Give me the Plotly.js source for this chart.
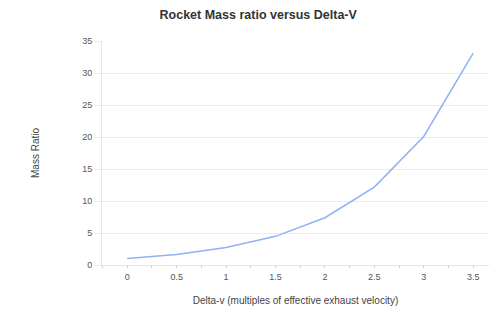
<!DOCTYPE html>
<html><head><meta charset="utf-8">
<script src="https://cdn.plot.ly/plotly-3.0.1.min.js"></script>
<style>html,body{margin:0;padding:0;background:#fff}#c{width:489px;height:318px}</style>
</head><body><div id="c"></div>
<script>
const deltaV = [0, 0.5, 1, 1.5, 2, 2.5, 3, 3.5];
const massRatio = [1.0, 1.65, 2.72, 4.48, 7.39, 12.18, 20.09, 33.12];
const xTickVals = [0, 0.5, 1, 1.5, 2, 2.5, 3, 3.5];
const xTickText = ["0", "0.5", "1", "1.5", "2", "2.5", "3", "3.5"];
const yTickVals = [0, 5, 10, 15, 20, 25, 30, 35];

const font = {family: "Liberation Sans, Arial, sans-serif", color: "#555", size: 9};
Plotly.newPlot("c", [{
  x: deltaV, y: massRatio, type: "scatter", mode: "lines",
  line: {color: "#8fb2f4", width: 1.5}, hoverinfo: "none"
}], {
  width: 489, height: 318,
  margin: {l: 102, r: 0, t: 41, b: 53},
  paper_bgcolor: "#fff", plot_bgcolor: "#fff",
  showlegend: false,
  title: {text: "Rocket Mass ratio versus Delta-V", x: 0.528, xanchor: "center", y: 0.955, yanchor: "middle",
          font: {family: "Liberation Sans, Arial, sans-serif", size: 12.5, color: "#333", weight: "bold"}},
  xaxis: {range: [-0.255, 3.66], tickvals: xTickVals, ticktext: xTickText, tickfont: font,
          showgrid: false, zeroline: false, showline: true, linecolor: "#e6e6e6", linewidth: 1,
          ticks: "outside", ticklen: 3, tickcolor: "rgba(0,0,0,0)",
          minor: {dtick: 0.25, tick0: 0.25, ticks: "outside", ticklen: 2, tickcolor: "#ccc", showgrid: false},
          title: {text: "Delta-v (multiples of effective exhaust velocity)", font: {family: "Liberation Sans, Arial, sans-serif", size: 10, color: "#444"}, standoff: 16}},
  yaxis: {range: [0, 35], tickvals: yTickVals, tickfont: font, showgrid: true, gridcolor: "#ececec", gridwidth: 1,
          zeroline: false, showline: true, linecolor: "#e6e6e6",
          ticks: "outside", ticklen: 7, tickcolor: "#ececec",
          title: {text: "Mass Ratio", font: {family: "Liberation Sans, Arial, sans-serif", size: 10, color: "#444"}, standoff: 40}}
}, {staticPlot: true, displayModeBar: false});
</script></body></html>
